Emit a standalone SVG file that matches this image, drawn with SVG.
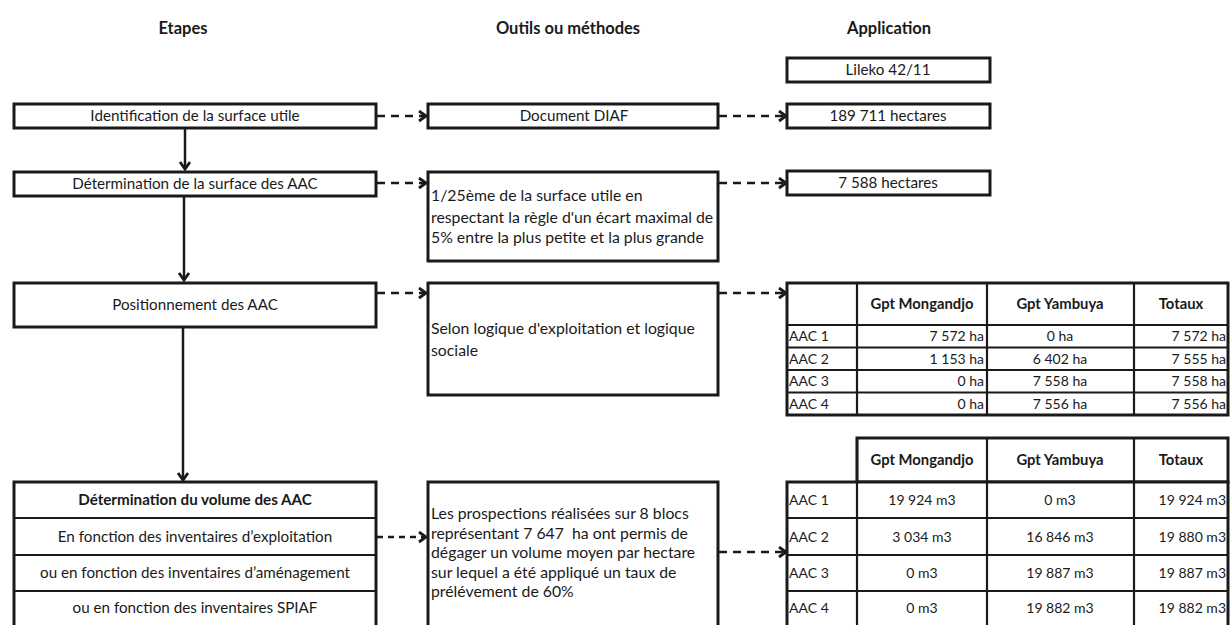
<svg xmlns="http://www.w3.org/2000/svg" width="1230" height="625" viewBox="0 0 1230 625">
<style>
text{font-family:Lato,"Liberation Sans",sans-serif;fill:#1a1a1a}
.h{font-size:16.5px;font-weight:bold;text-anchor:middle}
.t{font-size:15.2px;text-anchor:middle}
.tb{font-size:15.2px;font-weight:bold;text-anchor:middle}
.m{font-size:15.8px}
.th{font-size:14.8px;font-weight:bold;text-anchor:middle}
.td{font-size:14px}
.c{text-anchor:middle}
.r{text-anchor:end}
.box{fill:#fff;stroke:#1a1a1a;stroke-width:3}
.ln{stroke:#1a1a1a;stroke-width:2.2;fill:none}
.solid{stroke:#1a1a1a;stroke-width:2.5;fill:none}
.dash{stroke:#1a1a1a;stroke-width:2.5;fill:none;stroke-dasharray:8 6}
.dash2{stroke:#1a1a1a;stroke-width:2.5;fill:none;stroke-dasharray:6 5}
</style>
<defs>
<marker id="chev" markerUnits="userSpaceOnUse" markerWidth="12" markerHeight="14" refX="9" refY="6" orient="auto">
<path d="M2,1 L9,6 L2,11" fill="none" stroke="#1a1a1a" stroke-width="2.8"/>
</marker>
</defs>
<rect width="1230" height="625" fill="#fff"/>

<g id="headers">
<text class="h" x="183" y="34">Etapes</text>
<text class="h" x="568" y="34">Outils ou méthodes</text>
<text class="h" x="889" y="34">Application</text>
</g>

<g id="connectors">
<line class="solid" x1="185" y1="128" x2="185" y2="169" marker-end="url(#chev)"/>
<line class="solid" x1="184" y1="196" x2="184" y2="280" marker-end="url(#chev)"/>
<line class="solid" x1="183" y1="327" x2="183" y2="480" marker-end="url(#chev)"/>
<line class="dash" x1="377" y1="116" x2="426" y2="116" marker-end="url(#chev)"/>
<line class="dash" x1="719" y1="116" x2="786" y2="116" marker-end="url(#chev)"/>
<line class="dash" x1="377" y1="183" x2="426" y2="183" marker-end="url(#chev)"/>
<line class="dash" x1="719" y1="183" x2="786" y2="183" marker-end="url(#chev)"/>
<line class="dash" x1="377" y1="293" x2="426" y2="293" marker-end="url(#chev)"/>
<line class="dash" x1="719" y1="293" x2="786" y2="293" marker-end="url(#chev)"/>
<line class="dash2" x1="377" y1="537" x2="426" y2="537" marker-end="url(#chev)"/>
<line class="dash" x1="719" y1="552" x2="786" y2="552" marker-end="url(#chev)"/>
</g>

<g id="etape1">
<rect class="box" x="14" y="104" width="362" height="24"/>
<text class="t" x="195" y="121">Identification de la surface utile</text>
</g>
<g id="etape2">
<rect class="box" x="14" y="172" width="362" height="24"/>
<text class="t" x="195" y="189">Détermination de la surface des AAC</text>
</g>
<g id="etape3">
<rect class="box" x="14" y="283" width="362" height="44"/>
<text class="t" x="195" y="310">Positionnement des AAC</text>
</g>
<g id="etape4">
<rect class="box" x="14" y="482" width="362" height="150"/>
<line class="ln" x1="14" y1="518" x2="376" y2="518"/>
<line class="ln" x1="14" y1="555" x2="376" y2="555"/>
<line class="ln" x1="14" y1="591" x2="376" y2="591"/>
<text class="tb" x="195" y="505">Détermination du volume des AAC</text>
<text class="t" x="195" y="542">En fonction des inventaires d’exploitation</text>
<text class="t" x="195" y="578">ou en fonction des inventaires d’aménagement</text>
<text class="t" x="195" y="613">ou en fonction des inventaires SPIAF</text>
</g>

<g id="outil1">
<rect class="box" x="428" y="104" width="290" height="24"/>
<text class="t" x="574" y="121">Document DIAF</text>
</g>
<g id="outil2">
<rect class="box" x="428" y="172" width="290" height="89"/>
<text class="m" x="431" y="201">1/25ème de la surface utile en</text>
<text class="m" x="431" y="223">respectant la règle d'un écart maximal de</text>
<text class="m" x="431" y="243">5% entre la plus petite et la plus grande</text>
</g>
<g id="outil3">
<rect class="box" x="428" y="283" width="290" height="112"/>
<text class="m" x="431" y="334">Selon logique d'exploitation et logique</text>
<text class="m" x="431" y="356">sociale</text>
</g>
<g id="outil4">
<rect class="box" x="428" y="482" width="290" height="150"/>
<text class="m" x="431" y="519">Les prospections réalisées sur 8 blocs</text>
<text class="m" x="431" y="539" xml:space="preserve">représentant 7 647  ha ont permis de</text>
<text class="m" x="431" y="558">dégager un volume moyen par hectare</text>
<text class="m" x="431" y="578">sur lequel a été appliqué un taux de</text>
<text class="m" x="431" y="597">prélévement de 60%</text>
</g>

<g id="app0">
<rect class="box" x="787" y="58" width="203" height="24"/>
<text class="t" x="888" y="75">Lileko 42/11</text>
</g>
<g id="app1">
<rect class="box" x="787" y="104" width="203" height="24"/>
<text class="t" x="888" y="121">189 711 hectares</text>
</g>
<g id="app2">
<rect class="box" x="787" y="171" width="203" height="24"/>
<text class="t" x="888" y="188">7 588 hectares</text>
</g>

<g id="table-surfaces">
<rect class="box" x="787" y="283" width="441" height="132"/>
<line class="ln" x1="787" y1="325" x2="1228" y2="325"/>
<line class="ln" x1="787" y1="347.5" x2="1228" y2="347.5"/>
<line class="ln" x1="787" y1="370" x2="1228" y2="370"/>
<line class="ln" x1="787" y1="392.5" x2="1228" y2="392.5"/>
<line class="ln" x1="857" y1="283" x2="857" y2="415"/>
<line class="ln" x1="987" y1="283" x2="987" y2="415"/>
<line class="ln" x1="1134" y1="283" x2="1134" y2="415"/>
<text class="th" x="922" y="309">Gpt Mongandjo</text>
<text class="th" x="1060" y="309">Gpt Yambuya</text>
<text class="th" x="1181" y="309">Totaux</text>
<text class="td" x="789" y="341">AAC 1</text>
<text class="td" x="789" y="364">AAC 2</text>
<text class="td" x="789" y="386">AAC 3</text>
<text class="td" x="789" y="409">AAC 4</text>
<text class="td r" x="984" y="341">7 572 ha</text>
<text class="td r" x="984" y="364">1 153 ha</text>
<text class="td r" x="984" y="386">0 ha</text>
<text class="td r" x="984" y="409">0 ha</text>
<text class="td c" x="1060" y="341">0 ha</text>
<text class="td c" x="1060" y="364">6 402 ha</text>
<text class="td c" x="1060" y="386">7 558 ha</text>
<text class="td c" x="1060" y="409">7 556 ha</text>
<text class="td r" x="1226" y="341">7 572 ha</text>
<text class="td r" x="1226" y="364">7 555 ha</text>
<text class="td r" x="1226" y="386">7 558 ha</text>
<text class="td r" x="1226" y="409">7 556 ha</text>
</g>

<g id="table-volumes">
<rect class="box" x="857" y="438" width="371" height="44"/>
<rect class="box" x="787" y="482" width="441" height="150"/>
<line class="ln" x1="787" y1="518" x2="1228" y2="518"/>
<line class="ln" x1="787" y1="555" x2="1228" y2="555"/>
<line class="ln" x1="787" y1="591" x2="1228" y2="591"/>
<line class="ln" x1="857" y1="438" x2="857" y2="625"/>
<line class="ln" x1="987" y1="438" x2="987" y2="625"/>
<line class="ln" x1="1134" y1="438" x2="1134" y2="625"/>
<text class="th" x="922" y="465">Gpt Mongandjo</text>
<text class="th" x="1060" y="465">Gpt Yambuya</text>
<text class="th" x="1181" y="465">Totaux</text>
<text class="td" x="789" y="505">AAC 1</text>
<text class="td" x="789" y="542">AAC 2</text>
<text class="td" x="789" y="578">AAC 3</text>
<text class="td" x="789" y="613">AAC 4</text>
<text class="td c" x="922" y="505">19 924 m3</text>
<text class="td c" x="922" y="542">3 034 m3</text>
<text class="td c" x="922" y="578">0 m3</text>
<text class="td c" x="922" y="613">0 m3</text>
<text class="td c" x="1060" y="505">0 m3</text>
<text class="td c" x="1060" y="542">16 846 m3</text>
<text class="td c" x="1060" y="578">19 887 m3</text>
<text class="td c" x="1060" y="613">19 882 m3</text>
<text class="td r" x="1226" y="505">19 924 m3</text>
<text class="td r" x="1226" y="542">19 880 m3</text>
<text class="td r" x="1226" y="578">19 887 m3</text>
<text class="td r" x="1226" y="613">19 882 m3</text>
</g>
</svg>
